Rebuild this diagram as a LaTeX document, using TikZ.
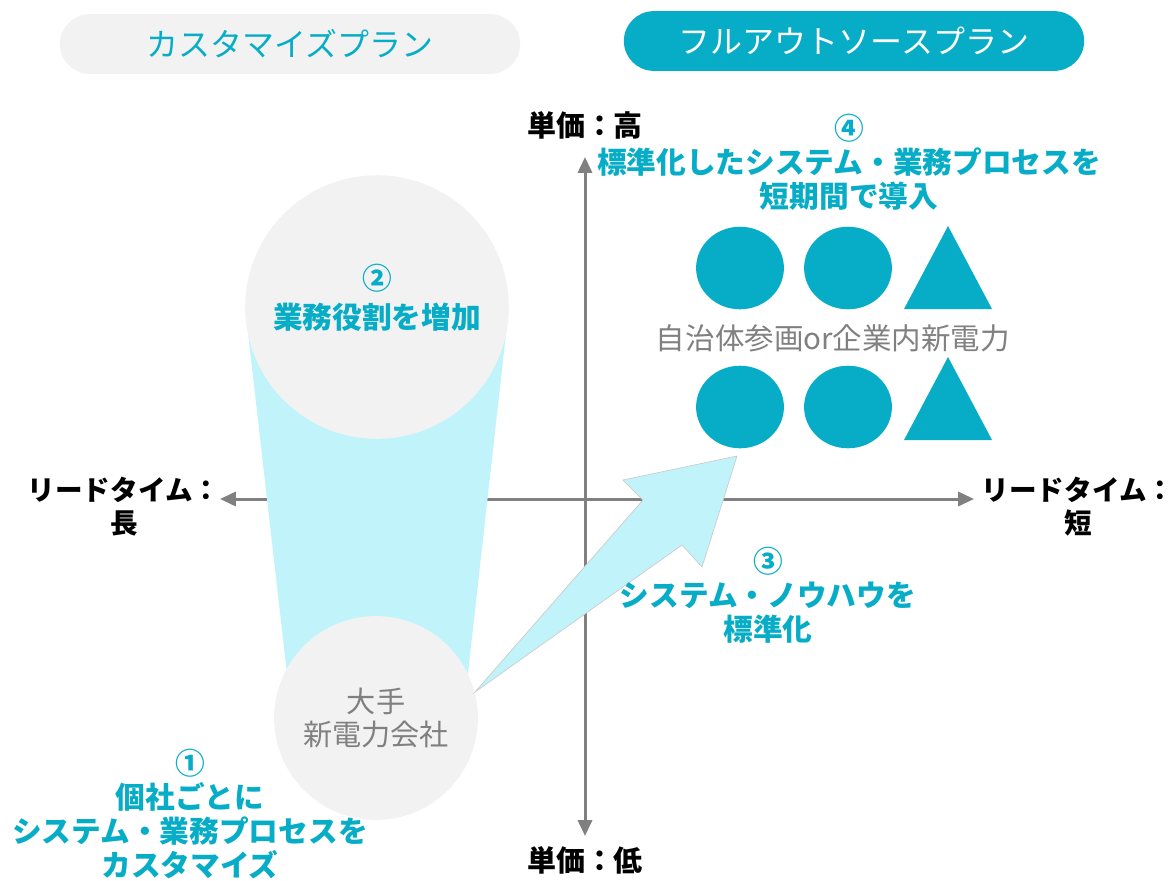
\documentclass[tikz,border=0pt]{standalone}
\usepackage{fontspec}
\setmainfont{Noto Sans CJK JP}
\usetikzlibrary{arrows.meta,positioning,shapes.geometric}
\definecolor{teal1}{HTML}{07ADC6}
\definecolor{pale}{HTML}{C1F4FA}
\definecolor{lgray}{HTML}{F2F2F2}
\definecolor{axisgray}{HTML}{808080}

\begin{document}
\begin{tikzpicture}[x=0.02cm,y=-0.02cm,
    axis/.style={draw=axisgray, line width=1.7pt, -{Triangle[length=9pt,width=8pt]}},
    pill/.style={rounded corners=17pt, minimum width=262pt, minimum height=34pt, font=\fontsize{18.2}{20}\selectfont},
    lbl/.style={align=center, font=\bfseries\fontsize{15.7}{18.7}\selectfont},
    note/.style={align=center, text=teal1, font=\bfseries\fontsize{16.9}{19.3}\selectfont},
    blob/.style={circle, fill=lgray, inner sep=0pt},
    dot/.style={ellipse, fill=teal1, minimum width=50pt, minimum height=47pt, inner sep=0pt}]
    \useasboundingbox (0,0) rectangle (1176,880);

    % plans
    \node[pill, fill=lgray, text=teal1] (custom) at (290,44) {カスタマイズプラン};
    \node[pill, fill=teal1, text=white] (outsrc) at (854,41) {フルアウトソースプラン};

    % axes
    \coordinate (o) at (585,499);
    \coordinate (west) at (220,499);
    \coordinate (east) at (974,499);
    \coordinate (north) at (585,157);
    \coordinate (south) at (585,836);
    \draw[axis] (o) -- (west);
    \draw[axis] (o) -- (east);
    \draw[axis] (o) -- (north);
    \draw[axis] (o) -- (south);
    \node[lbl] (slow) at (124,507) {リードタイム：\\長};
    \node[lbl] (fast) at (1078,507) {リードタイム：\\短};
    \node[lbl, font=\bfseries\fontsize{16.5}{18.7}\selectfont] (high) at (585,125) {単価：高};
    \node[lbl, font=\bfseries\fontsize{16.5}{18.7}\selectfont] (low) at (585,860) {単価：低};

    % customize plan
    \fill[pale] (245,307) -- (509,307) -- (465,700) -- (290,700) -- cycle;
    \node[blob, minimum size=150pt] (role) at (377,307) {};
    \node[note] (step2) at (377,298) {②\\[3pt]業務役割を増加};
    \node[blob, minimum size=116pt, text=axisgray, align=center,
          font=\fontsize{16.6}{18.5}\selectfont] (major) at (376,718) {大手\\新電力会社};
    \fill[pale, draw=black!20, line width=0.4pt] (475,692) -- (643,500) -- (623,480)
        -- (737,456) -- (702,567) -- (682,545) -- cycle;
    \node[note] (step1) at (190,814) {①\\個社ごとに\\システム・業務プロセスを\\カスタマイズ};
    \node[note] (step3) at (768,595) {③\\システム・ノウハウを\\標準化};

    % full outsource plan
    \node[note] (step4) at (849,162) {④\\標準化したシステム・業務プロセスを\\短期間で導入};
    \foreach \y in {268,407} {
        \node[dot] at (740,\y) {};
        \node[dot] at (848,\y) {};
    }
    \fill[teal1] (904,309) -- (948,226) -- (992,309) -- cycle;
    \fill[teal1] (904,440) -- (948,357) -- (992,440) -- cycle;
    \node[text=axisgray, font=\fontsize{16.8}{19}\selectfont] (parts) at (833,338) {自治体参画or企業内新電力};
\end{tikzpicture}
\end{document}
